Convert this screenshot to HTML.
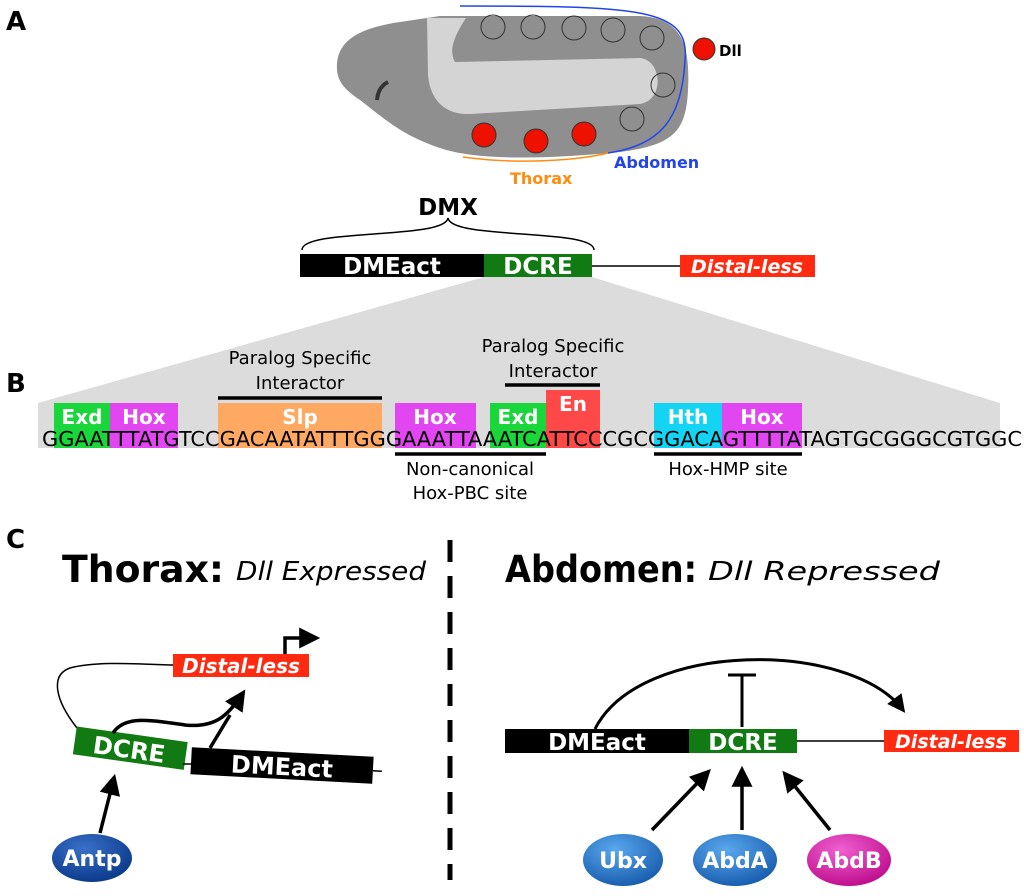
<!DOCTYPE html>
<html><head><style>body{margin:0;background:#fff}svg{display:block}</style></head><body>
<svg width="1024" height="896" viewBox="0 0 1024 896" xmlns="http://www.w3.org/2000/svg" font-family="DejaVu Sans, Liberation Sans, sans-serif">
<defs><marker id="ah" viewBox="0 0 10 10" refX="8" refY="5" markerWidth="6" markerHeight="6" orient="auto"><path d="M0,0L10,5L0,10z" fill="#000"/></marker>
<radialGradient id="bl" cx="40%" cy="30%" r="70%"><stop offset="0" stop-color="#5aa8ee"/><stop offset="1" stop-color="#1a5fb0"/></radialGradient>
<radialGradient id="db" cx="40%" cy="30%" r="70%"><stop offset="0" stop-color="#3a70c8"/><stop offset="1" stop-color="#0b3b8c"/></radialGradient>
<radialGradient id="pk" cx="40%" cy="30%" r="70%"><stop offset="0" stop-color="#f060d0"/><stop offset="1" stop-color="#c0108f"/></radialGradient></defs>
<g font-weight="bold" font-size="26"><text x="6" y="30">A</text><text x="6" y="392">B</text><text x="6" y="548">C</text></g>
<path d="M337,70 C335,40 360,28 400,22 L440,16 L640,16 C685,18 690,50 688,90 C686,130 675,145 620,152 C560,158 480,162 440,148 C400,135 380,115 360,100 C345,90 338,82 337,70z" fill="#8f8f8f"/>
<path d="M427,18 L466,18 C455,35 448,50 455,62 L640,58 C662,60 665,100 640,104 L470,114 C445,115 430,100 428,75z" fill="#d4d4d4"/>
<g fill="none" stroke="#333" stroke-width="1"><circle cx="493" cy="27" r="12"/><circle cx="533" cy="27" r="12"/><circle cx="574" cy="28" r="12"/><circle cx="613" cy="30" r="12"/><circle cx="652" cy="38" r="12"/><circle cx="663" cy="85" r="12"/><circle cx="632" cy="119" r="12"/></g>
<g fill="#ee1100" stroke="#333"><circle cx="484" cy="135" r="12"/><circle cx="536" cy="141" r="12"/><circle cx="584" cy="134" r="12"/><circle cx="704" cy="49" r="11"/></g>
<path d="M388,82 q-10,5 -11,18" stroke="#333" stroke-width="4" fill="none"/>
<text x="719" y="56" font-size="15" font-weight="bold">Dll</text>
<path d="M460,6 C640,6 690,8 685,60 C682,120 660,145 608,153" fill="none" stroke="#2244ee" stroke-width="1.5"/>
<path d="M463,157 C520,165 580,160 608,153" fill="none" stroke="#ff8c10" stroke-width="1.5"/>
<text x="614" y="168" font-size="16" font-weight="bold" fill="#2244ee">Abdomen</text>
<text x="510" y="184" font-size="16" font-weight="bold" fill="#ff8c10">Thorax</text>
<text x="448" y="215" font-size="23" font-weight="bold" text-anchor="middle">DMX</text>
<path d="M302,250 C302,228 445,240 448,218 C451,240 594,228 594,250" fill="none" stroke="#000" stroke-width="1.5"/>
<path d="M484,277 L592,277 L1000,403 L38,403z" fill="#dcdcdc"/>
<rect x="38" y="403" width="962" height="45" fill="#dcdcdc"/>
<rect x="300" y="254" width="185" height="23" fill="#000"/><rect x="484" y="254" width="108" height="23" fill="#127a12"/>
<text x="392" y="274" fill="#fff" font-size="23" font-weight="bold" text-anchor="middle">DMEact</text>
<text x="538" y="274" fill="#fff" font-size="23" font-weight="bold" text-anchor="middle">DCRE</text>
<line x1="592" y1="266" x2="680" y2="266" stroke="#000" stroke-width="1.5"/>
<rect x="680" y="255" width="135" height="22" fill="#ff2a10"/>
<text x="747" y="273" fill="#fff" font-size="19" font-weight="bold" font-style="italic" text-anchor="middle">Distal-less</text>
<rect x="54" y="403" width="56" height="45" fill="#19d63a"/><rect x="110" y="403" width="68" height="45" fill="#e246f0"/>
<rect x="218" y="403" width="164" height="45" fill="#ffa862"/><rect x="395" y="403" width="81" height="45" fill="#e246f0"/>
<rect x="546" y="390" width="54" height="58" fill="#ff4848"/><rect x="490" y="403" width="56" height="45" fill="#19d63a"/>
<rect x="654" y="403" width="68" height="45" fill="#14d4f4"/><rect x="722" y="403" width="80" height="45" fill="#e246f0"/>
<g fill="#fff" font-size="20" font-weight="bold" text-anchor="middle"><text x="82" y="424">Exd</text><text x="144" y="424">Hox</text><text x="300" y="424">Slp</text><text x="435" y="424">Hox</text><text x="518" y="424">Exd</text><text x="573" y="411">En</text><text x="688" y="424">Hth</text><text x="762" y="424">Hox</text></g>
<text x="42" y="446" font-size="20" textLength="980" lengthAdjust="spacingAndGlyphs">GGAATTTATGTCCGACAATATTTGGGAAATTAAATCATTCCCGCGGACAGTTTTATAGTGCGGGCGTGGC</text>
<g stroke="#000" stroke-width="3.5"><line x1="218" y1="398" x2="382" y2="398"/><line x1="505" y1="385" x2="600" y2="385"/><line x1="395" y1="454" x2="546" y2="454"/><line x1="654" y1="454" x2="802" y2="454"/></g>
<g font-size="18" text-anchor="middle"><text x="300" y="364">Paralog Specific</text><text x="300" y="389">Interactor</text><text x="553" y="352">Paralog Specific</text><text x="553" y="377">Interactor</text><text x="470" y="475">Non-canonical</text><text x="470" y="499">Hox-PBC site</text><text x="728" y="475">Hox-HMP site</text></g>
<text x="62" y="582" font-size="37" font-weight="bold" textLength="162" lengthAdjust="spacingAndGlyphs">Thorax:</text><text x="236" y="580" font-size="26" font-style="italic" textLength="190" lengthAdjust="spacingAndGlyphs">Dll Expressed</text>
<text x="505" y="582" font-size="37" font-weight="bold" textLength="192" lengthAdjust="spacingAndGlyphs">Abdomen:</text><text x="708" y="580" font-size="26" font-style="italic" textLength="232" lengthAdjust="spacingAndGlyphs">Dll Repressed</text>
<line x1="450" y1="540" x2="450" y2="880" stroke="#000" stroke-width="5" stroke-dasharray="22,14"/>
<path d="M77,728 C55,700 50,675 70,668 C100,660 150,665 175,665" fill="none" stroke="#000" stroke-width="1.5"/>
<rect x="173" y="654" width="136" height="23" fill="#ff2a10"/>
<text x="241" y="673" fill="#fff" font-size="20" font-weight="bold" font-style="italic" text-anchor="middle">Distal-less</text>
<path d="M285,654 L285,638 L316,638" fill="none" stroke="#000" stroke-width="3.5" marker-end="url(#ah)"/>
<g transform="rotate(8 129 750)"><rect x="74" y="734" width="112" height="28" fill="#127a12"/><text x="129" y="758" fill="#fff" font-size="24" font-weight="bold" text-anchor="middle">DCRE</text></g>
<line x1="183" y1="764" x2="192" y2="764" stroke="#000" stroke-width="1.5"/>
<g transform="rotate(3 282 766)"><rect x="191" y="752" width="182" height="27" fill="#000"/><text x="282" y="775" fill="#fff" font-size="24" font-weight="bold" text-anchor="middle">DMEact</text><line x1="373" y1="766" x2="382" y2="766" stroke="#000" stroke-width="1.5"/></g>
<path d="M113,733 C125,715 150,720 185,725 C215,728 228,716 243,693" fill="none" stroke="#000" stroke-width="3.5" marker-end="url(#ah)"/>
<line x1="210" y1="748" x2="230" y2="715" stroke="#000" stroke-width="3.5"/>
<line x1="100" y1="833" x2="114" y2="778" stroke="#000" stroke-width="3.5" marker-end="url(#ah)"/>
<ellipse cx="92" cy="858" rx="40" ry="24" fill="url(#db)"/><text x="92" y="866" fill="#fff" font-size="22" font-weight="bold" text-anchor="middle">Antp</text>
<rect x="505" y="729" width="185" height="24" fill="#000"/><rect x="689" y="729" width="108" height="24" fill="#127a12"/>
<text x="597" y="750" fill="#fff" font-size="23" font-weight="bold" text-anchor="middle">DMEact</text><text x="743" y="750" fill="#fff" font-size="23" font-weight="bold" text-anchor="middle">DCRE</text>
<line x1="797" y1="741" x2="884" y2="741" stroke="#000" stroke-width="1.5"/>
<rect x="884" y="730" width="135" height="22" fill="#ff2a10"/>
<text x="951" y="748" fill="#fff" font-size="19" font-weight="bold" font-style="italic" text-anchor="middle">Distal-less</text>
<path d="M595,729 C640,640 850,640 903,710" fill="none" stroke="#000" stroke-width="3" marker-end="url(#ah)"/>
<line x1="742" y1="727" x2="742" y2="675" stroke="#000" stroke-width="3"/><line x1="728" y1="675" x2="756" y2="675" stroke="#000" stroke-width="3"/>
<g stroke="#000" stroke-width="3.5" marker-end="url(#ah)"><line x1="652" y1="830" x2="708" y2="772"/><line x1="742" y1="830" x2="742" y2="770"/><line x1="830" y1="830" x2="785" y2="774"/></g>
<ellipse cx="623" cy="860" rx="40" ry="26" fill="url(#bl)"/><text x="623" y="868" fill="#fff" font-size="22" font-weight="bold" text-anchor="middle">Ubx</text>
<ellipse cx="735" cy="860" rx="42" ry="26" fill="url(#bl)"/><text x="735" y="868" fill="#fff" font-size="22" font-weight="bold" text-anchor="middle">AbdA</text>
<ellipse cx="849" cy="860" rx="42" ry="26" fill="url(#pk)"/><text x="849" y="868" fill="#fff" font-size="22" font-weight="bold" text-anchor="middle">AbdB</text>
</svg>
</body></html>
